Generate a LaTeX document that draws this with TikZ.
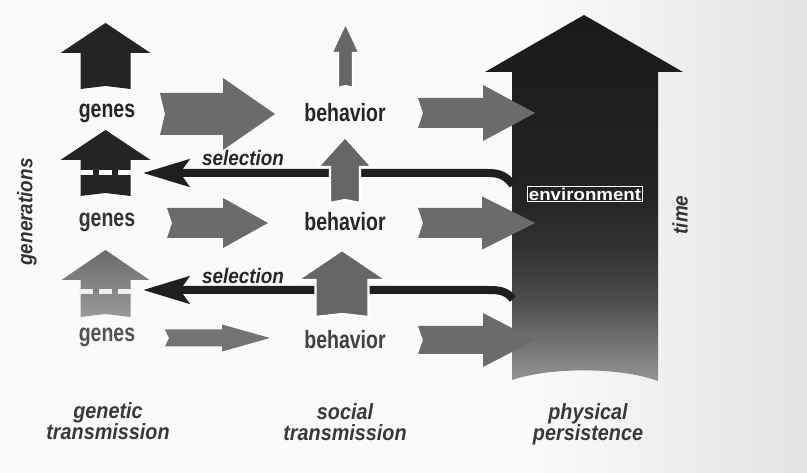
\documentclass[tikz,border=0pt]{standalone}
\usepackage{fontspec}
\setmainfont{Liberation Sans}
\newfontfamily\condfont[FakeStretch=0.78]{Liberation Sans}
\newfontfamily\labfont[FakeStretch=0.9]{Liberation Sans}
\newfontfamily\widefont[FakeStretch=1.1]{Liberation Sans}
\usetikzlibrary{arrows.meta,calc}

% dark at the top, fading towards the bottom (path spans 25bp..75bp)
\pgfdeclareverticalshading{envfade}{100bp}{%
  color(0bp)=(black!42); color(25bp)=(black!42); color(30.6bp)=(black!56);
  color(36bp)=(black!70); color(43bp)=(black!80); color(50bp)=(black!86);
  color(75bp)=(black!90); color(100bp)=(black!90)}

% upward block arrow: style, base point, height, shaft half width, head half width, head length, tail notch
\newcommand\upfat[7]{%
  \begin{scope}[shift={(#2)}]
    \path[#1] ({-#4},0) -- ({-#4},{-(#3-#6)}) -- ({-#5},{-(#3-#6)}) -- (0,{-#3})
      -- ({#5},{-(#3-#6)}) -- ({#4},{-(#3-#6)}) -- ({#4},0) -- (0,{-#7}) -- cycle;
  \end{scope}}
% rightward block arrow: style, tail point, length, shaft half width, head half width, head length, tail notch
\newcommand\rightfat[7]{%
  \begin{scope}[shift={(#2)}]
    \path[#1] (0,{-#4}) -- ({#3-#6},{-#4}) -- ({#3-#6},{-#5}) -- ({#3},0)
      -- ({#3-#6},{#5}) -- ({#3-#6},{#4}) -- (0,{#4}) -- ({#7},0) -- cycle;
  \end{scope}}

\tikzset{
  darkfill/.style={fill=black!86},
  grayfill/.style={fill=black!58},
  haloed/.style={fill=black!60, draw=white, line width=2.2pt, line join=miter},
  lbl/.style={font=\condfont\bfseries\fontsize{25}{28}\selectfont, text=black!85, inner sep=0pt},
  captext/.style={font=\labfont\bfseries\itshape\fontsize{22}{21}\selectfont, text=black!78, align=center, inner sep=0pt},
  axistext/.style={font=\labfont\bfseries\itshape\fontsize{21}{22}\selectfont, text=black!80, inner sep=0pt, rotate=90},
  sellbl/.style={font=\labfont\bfseries\itshape\fontsize{21}{22}\selectfont, text=black!85, inner sep=0pt, anchor=base},
  selline/.style={draw=black!88, line width=8pt, -{Stealth[length=46pt,width=27pt,inset=9pt]}},
  envlbl/.style={font=\widefont\bfseries\fontsize{17}{19}\selectfont, text=white!92, draw=white!88, line width=0.8pt, inner sep=1.6pt},
}

\begin{document}
\begin{tikzpicture}[x=1pt,y=-1pt]
\useasboundingbox (0,0) rectangle (807,473);
% paper
\fill[black!2] (0,0) rectangle (540,473);
\shade[left color=black!2, right color=black!11] (540,0) rectangle (807,473);

% the environment arrow (time runs upward)
\shade[shading=envfade]
  (512,380) -- (512,72) -- (485,72) -- (584,15) -- (683,72) -- (658,72) -- (658,381)
  .. controls (620,367) and (550,367) .. (512,380) -- cycle;

% anchor points of the selection connectors
\coordinate (envS1) at (513,185);
\coordinate (envS2) at (513,299);
\coordinate (genS1) at (143,173);
\coordinate (genS2) at (143,290);

% selection: environment back to genes
\draw[selline] (envS1) .. controls (506,176) and (500,173) .. (488,173) -- (genS1);
\draw[selline] (envS2) .. controls (506,291) and (500,290) .. (488,290) -- (genS2);

% behavior passed on through the generations
\coordinate (behU1) at (345.5,88);
\coordinate (behU2) at (345,203);
\coordinate (behU3) at (342,317);
\upfat{haloed}{behU1}{65}{7.5}{14}{30}{2}
\upfat{haloed}{behU2}{66}{15}{27}{30}{3}
\upfat{haloed}{behU3}{67}{26.5}{44.5}{30}{3}

% genes passed on through the generations
\coordinate (genU1) at (105.5,89);
\coordinate (genU2) at (105.5,196);
\coordinate (genU3) at (105.5,317);
\upfat{darkfill}{genU1}{66}{25}{45}{30}{3}
\upfat{darkfill}{genU2}{66}{25}{45}{30}{3}
\upfat{top color=black!58, bottom color=black!40}{genU3}{67}{25}{44}{30}{3}
% breaks across the lower gene arrows
\foreach \yy/\c in {170/black!2, 289/black!6} {
  \fill[\c] (79,\yy) rectangle (93,\yy+5);
  \fill[\c] (99,\yy) rectangle (112,\yy+5);
  \fill[\c] (118,\yy) rectangle (132,\yy+5);
}

% genes -> behavior
\coordinate (gb1) at (160,114);
\coordinate (gb2) at (167,223);
\coordinate (gb3) at (165,338);
\rightfat{grayfill}{gb1}{115}{21}{36}{52}{5}
\rightfat{grayfill}{gb2}{101}{15}{25}{45}{5}
\rightfat{fill=black!55}{gb3}{105}{8.5}{13.5}{48}{4}

% behavior -> environment
\coordinate (be1) at (418,113);
\coordinate (be2) at (418,223);
\coordinate (be3) at (418,340);
\rightfat{grayfill}{be1}{117}{15}{28}{52}{5}
\rightfat{grayfill}{be2}{117}{15}{26.5}{53}{5}
\rightfat{grayfill}{be3}{117}{14}{27}{52}{5}

% row labels
\node[lbl] (genes1) at (107,113) {genes};
\node[lbl, text=black!80] (genes2) at (107,222) {genes};
\node[lbl, text=black!68] (genes3) at (107,337) {genes};
\node[lbl] (beh1) at (345,113) {behavior};
\node[lbl] (beh2) at (345,222) {behavior};
\node[lbl, text=black!75] (beh3) at (345,340) {behavior};

\node[sellbl] (sel1) at (243,166) {selection};
\node[sellbl] (sel2) at (243,284) {selection};

\node[envlbl] (envlabel) at (585,194) {environment};

% axes
\node[axistext] (gens) at (27,212) {generations};
\node[axistext] (time) at (680,215) {time};

% column captions
\node[captext] (capgen) at (108,421) {genetic\\transmission};
\node[captext] (capsoc) at (345,422) {social\\transmission};
\node[captext] (capphy) at (588,424) {physical\\persistence};
\end{tikzpicture}
\end{document}
